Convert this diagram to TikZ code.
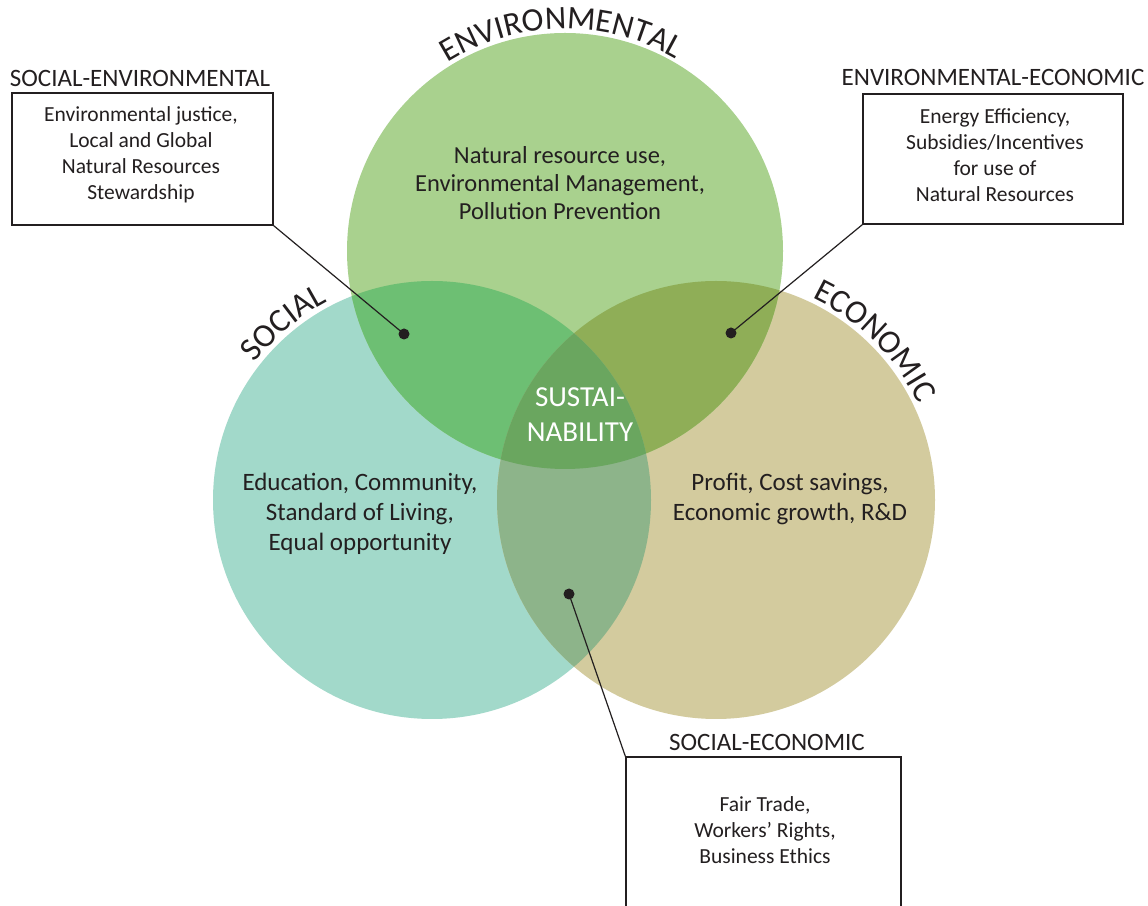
\documentclass[tikz,border=0pt]{standalone}
\usepackage{fontspec}
\setmainfont{Carlito}
\usetikzlibrary{decorations.text}
\definecolor{envc}{HTML}{A9D18E}
\definecolor{socc}{HTML}{A2D9CA}
\definecolor{ecoc}{HTML}{D3CB9E}
\definecolor{envsoc}{HTML}{6DBF73}
\definecolor{enveco}{HTML}{8FAE57}
\definecolor{soceco}{HTML}{8DB48A}
\definecolor{allc}{HTML}{6AA65F}
\definecolor{ink}{HTML}{231F20}
\begin{document}
\begin{tikzpicture}[x=1pt,y=1pt,
  every node/.style={text=ink},
  circtext/.style={align=center,font=\fontsize{25}{30}\selectfont},
  boxtext/.style={align=center,font=\fontsize{21.5}{26}\selectfont},
  boxnode/.style={draw=ink,line width=1.3pt,inner sep=0pt},
  boxlabel/.style={font=\fontsize{25}{28}\selectfont,inner sep=0pt},
  dotnode/.style={circle,fill=ink,minimum size=11pt,inner sep=0pt},
  leader/.style={draw=ink,line width=1.2pt}]
\useasboundingbox (0,0) rectangle (1148,905);
\fill[white] (0,0) rectangle (1148,905);
% circles
\def\envpath{(565,654) circle[radius=218pt]}
\def\socpath{(432,405) circle[radius=219pt]}
\def\ecopath{(716,405) circle[radius=219pt]}
\fill[socc] \socpath;
\fill[ecoc] \ecopath;
\fill[envc] \envpath;
\begin{scope}
  \clip \envpath;
  \fill[envsoc] \socpath;
  \fill[enveco] \ecopath;
\end{scope}
\begin{scope}
  \clip \socpath;
  \fill[soceco] \ecopath;
\end{scope}
\begin{scope}
  \clip \envpath;
  \clip \socpath;
  \fill[allc] \ecopath;
\end{scope}
% curved titles
\path[decorate,decoration={text along path,text align=center,
  text={|\fontsize{33}{33}\selectfont\color{ink}|ENVIRONMENTAL}}]
  (565,654) ++(131:222pt) arc[start angle=131,end angle=51,radius=222pt];
\path[decorate,decoration={text along path,text align=center,
  text={|\fontsize{33}{33}\selectfont\color{ink}|SOCIAL}}]
  (432,405) ++(155:224pt) arc[start angle=155,end angle=105,radius=224pt];
\path[decorate,decoration={text along path,text align=center,
  text={|\fontsize{33}{33}\selectfont\color{ink}|ECONOMIC}}]
  (716,405) ++(75:224pt) arc[start angle=75,end angle=15,radius=224pt];
% circle texts
\node[circtext,font=\fontsize{24.5}{28}\selectfont] (envt) at (560,722) {Natural resource use,\\Environmental Management,\\Pollution Prevention};
\node[circtext] (soct) at (360,391) {Education, Community,\\Standard of Living,\\Equal opportunity};
\node[circtext] (ecot) at (790,406) {Profit, Cost savings,\\Economic growth, R\&D};
\node[align=center,font=\fontsize{29}{35}\selectfont,text=white] (sust) at (580,490) {SUSTAI-\\NABILITY};
% boxes
\node[boxnode,minimum width=261pt,minimum height=132pt] (sebox) at (142.5,746) {};
\node[boxtext] (setxt) at (141,750) {Environmental justice,\\Local and Global\\Natural Resources\\Stewardship};
\node[boxnode,minimum width=260pt,minimum height=130pt] (eebox) at (993,746) {};
\node[boxtext] (eetxt) at (995,750) {Energy Efficiency,\\Subsidies/Incentives\\for use of\\Natural Resources};
\node[boxnode,minimum width=275pt,minimum height=150pt] (scebox) at (763.5,73) {};
\node[boxtext] (scetxt) at (765,75) {Fair Trade,\\Workers’ Rights,\\Business Ethics};
% labels
\node[boxlabel] (selab) at (140,827) {SOCIAL-ENVIRONMENTAL};
\node[boxlabel] (eelab) at (993,828) {ENVIRONMENTAL-ECONOMIC};
\node[boxlabel] (scelab) at (767,163) {SOCIAL-ECONOMIC};
% dots
\node[dotnode] (sedot) at (404,571) {};
\node[dotnode] (eedot) at (731,572) {};
\node[dotnode] (scedot) at (569,311) {};
% leaders
\draw[leader] (sebox.south east) -- (sedot.center);
\draw[leader] (eebox.south west) -- (eedot.center);
\draw[leader] (scedot.center) -- (scebox.north west);
\end{tikzpicture}
\end{document}
